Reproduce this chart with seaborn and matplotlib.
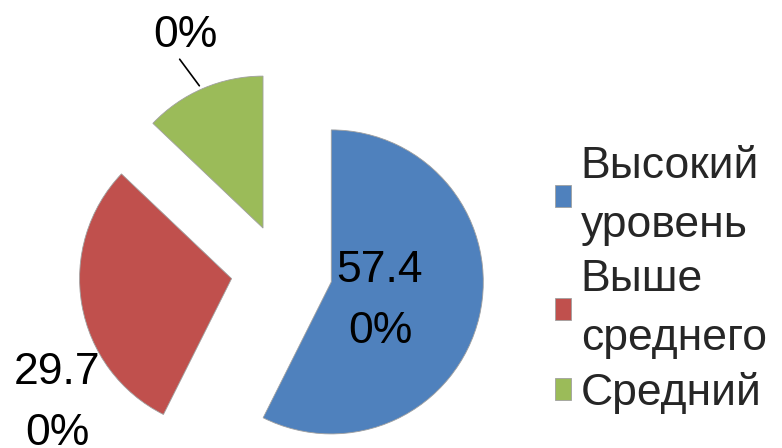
import matplotlib
matplotlib.use("Agg")
import matplotlib.pyplot as plt
import seaborn as sns

categories = ["Высокий\nуровень", "Выше\nсреднего", "Средний"]
values = [57.4, 29.7, 12.9]
colors = ["#4F81BD", "#C0504D", "#9BBB59"]

sns.set_theme(style="white")
plt.rcParams["font.family"] = ["Liberation Sans", "DejaVu Sans"]

W, H = 782, 448
R = 152            # pie radius in pixels
CX, CY = 281, 270  # pie centre in pixels (from top)
FS = 32


def px(x, y):
    return (x - CX) / R, (CY - y) / R


fig = plt.figure(figsize=(W / 100, H / 100), dpi=100)
ax = fig.add_axes([0, 0, 1, 1])

wedges, _ = ax.pie(
    values,
    colors=colors,
    startangle=90,
    counterclock=False,
    explode=[0.34, 0.33, 0.30],
    radius=1,
    wedgeprops=dict(edgecolor="#a0a0a0", linewidth=0.6),
)

ax.set_xlim(px(0, 0)[0], px(W, 0)[0])
ax.set_ylim(px(0, H)[1], px(0, 0)[1])
ax.set_aspect("equal")
ax.axis("off")


def lab(v):
    s = f"{v:.2f}%"
    return s[:-2] + "\n" + s[-2:]


label_pos = [(380, 301), (57, 403), (185, 5)]
for v, (x, y) in zip(values, label_pos):
    ax.text(*px(x, y), lab(v), ha="center", va="center", fontsize=FS,
            linespacing=1.6, color="black")

# leader line for the small slice
ax.annotate("", xy=px(201, 88), xytext=px(178, 57),
            arrowprops=dict(arrowstyle="-", color="black", lw=1.2))

leg = ax.legend(wedges, categories, loc="center left",
                bbox_to_anchor=(555 / W, 1 - 280 / H), frameon=False, fontsize=FS,
                handlelength=0.36, handleheight=0.36, handletextpad=0.22,
                labelspacing=0.3, borderpad=0, borderaxespad=0)
for t in leg.get_texts():
    t.set_linespacing(1.55)

fig.savefig("out.png", dpi=100, facecolor="white")
